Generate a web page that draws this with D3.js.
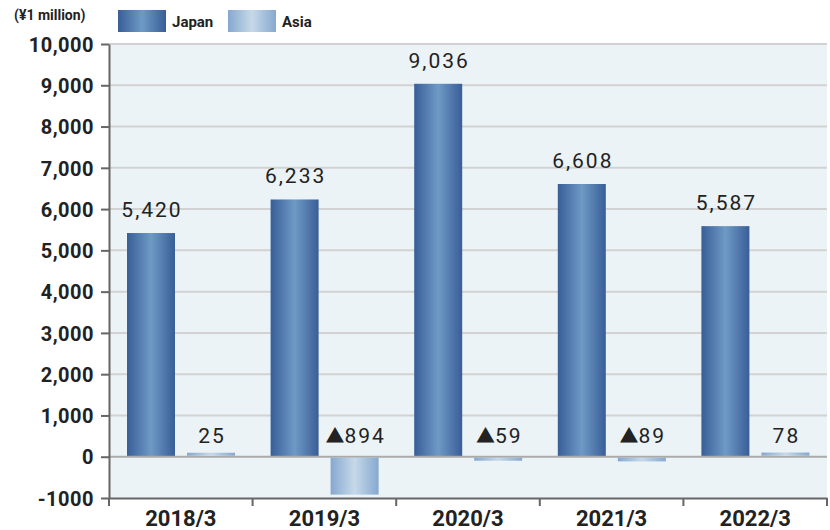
<!DOCTYPE html>
<html><head><meta charset="utf-8">
<script src="https://cdn.jsdelivr.net/npm/d3@7"></script>
<style>body{margin:0;background:#fff;font-family:Roboto,sans-serif;}</style>
</head><body><svg id="c" width="830" height="530"></svg>
<script>
const categories = ["2018/3","2019/3","2020/3","2021/3","2022/3"];
const japan = [5420, 6233, 9036, 6608, 5587];
const asia = [25, -894, -59, -89, 78];
const yTicks = [-1000,0,1000,2000,3000,4000,5000,6000,7000,8000,9000,10000];
const seriesNames = ["Japan","Asia"];

const svg = d3.select("#c");
const L=109,R=827,T=44,B=498;
const x = d3.scaleBand().domain(categories).range([L,R]).paddingInner(0).paddingOuter(0);
const y = d3.scaleLinear().domain([-1000,10000]).range([B,T]);
const defs = svg.append("defs");
function grad(id, edge, mid){
  const g=defs.append("linearGradient").attr("id",id).attr("x1","0%").attr("x2","100%");
  g.append("stop").attr("offset","0%").attr("stop-color",edge);
  g.append("stop").attr("offset","50%").attr("stop-color",mid);
  g.append("stop").attr("offset","100%").attr("stop-color",edge);
}
grad("gJ","#395e98","#6e9ac5");
grad("gA","#86a8cf","#c6d9e9");

svg.append("rect").attr("x",L).attr("y",T).attr("width",R-L).attr("height",B-T).attr("fill","#ecf3f6");
// grid
svg.selectAll(".grid").data(yTicks.filter(d=>d!==-1000 && d!==0)).enter().append("line")
 .attr("x1",L).attr("x2",R).attr("y1",d=>y(d)).attr("y2",d=>y(d)).attr("stroke","#d2d2d2").attr("stroke-width",2);

const bw = 48;
const offJ = 18, offA = 78;
const minH = 3;
function barY(d){ const h=Math.max(minH,Math.abs(y(d)-y(0))); return d>=0 ? y(0)-h : y(0); }
function barH(d){ return Math.max(minH,Math.abs(y(d)-y(0))); }
svg.selectAll(".bj").data(japan).enter().append("rect")
 .attr("x",(d,i)=>x(categories[i])+offJ).attr("width",bw)
 .attr("y",barY).attr("height",barH)
 .attr("fill","url(#gJ)");
// zero line
svg.append("line").attr("x1",L).attr("x2",R).attr("y1",y(0)).attr("y2",y(0)).attr("stroke","#aaaaaa").attr("stroke-width",2);
svg.selectAll(".ba").data(asia).enter().append("rect")
 .attr("x",(d,i)=>x(categories[i])+offA).attr("width",bw)
 .attr("y",d=>d>=0 ? barY(d)-1 : barY(d)+1).attr("height",barH)
 .attr("fill","url(#gA)");

// labels
const fmt = d3.format(",");
function addLabel(sel){
  sel.each(function(d){
    const t=d3.select(this);
    if(d<0){
      t.append("tspan").attr("font-family","'Noto Sans CJK JP',sans-serif").attr("font-size",19).attr("letter-spacing",0).text("▲");
      t.append("tspan").text(fmt(-d));
    } else t.text(fmt(d));
  });
}
svg.selectAll(".lj").data(japan).enter().append("text")
 .attr("x",(d,i)=>x(categories[i])+offJ+bw/2+1).attr("y",d=>y(d)-16)
 .attr("text-anchor","middle").attr("font-size",21).attr("letter-spacing",2).attr("fill","#222").call(addLabel);
svg.selectAll(".la").data(asia).enter().append("text")
 .attr("x",(d,i)=>x(categories[i])+offA+bw/2+1).attr("y",y(0)-14)
 .attr("text-anchor","middle").attr("font-size",21).attr("letter-spacing",2).attr("fill","#222").call(addLabel);

// axes
const ya = svg.append("g").attr("transform",`translate(${L},0)`)
 .call(d3.axisLeft(y).tickValues(yTicks).tickFormat(d=>d===-1000?"-1000":fmt(d)).tickSize(8).tickSizeOuter(0));
ya.select(".domain").attr("stroke","#666").attr("stroke-width",2);
ya.selectAll(".tick line").attr("stroke","#666").attr("stroke-width",2);
ya.selectAll("text").attr("font-family","Roboto,sans-serif").attr("font-size",20).attr("font-weight","bold").attr("letter-spacing",0.5).attr("fill","#222").attr("x",-15).attr("dy","0.36em");

const xa = svg.append("g").attr("transform",`translate(0,${B})`)
 .call(d3.axisBottom(x).tickSize(0).tickSizeOuter(0));
xa.select(".domain").attr("stroke","#666").attr("stroke-width",2);
xa.selectAll("text").attr("font-family","Roboto,sans-serif").attr("font-size",22).attr("font-weight","bold").attr("fill","#222").attr("y",0).attr("dy",28);
const bounds = categories.map(c=>x(c)).concat([R]);
svg.selectAll(".xt").data(bounds).enter().append("line")
 .attr("x1",d=>d).attr("x2",d=>d).attr("y1",B).attr("y2",B+8).attr("stroke","#666").attr("stroke-width",2);

// legend
svg.append("text").attr("x",14).attr("y",20).attr("font-size",14).attr("font-weight","bold").attr("fill","#222").text("(¥1 million)");
const lg = [{n:seriesNames[0],g:"gJ",x:118},{n:seriesNames[1],g:"gA",x:228}];
lg.forEach(o=>{
  svg.append("rect").attr("x",o.x).attr("y",10).attr("width",48).attr("height",22).attr("fill",`url(#${o.g})`);
  svg.append("text").attr("x",o.x+54).attr("y",27).attr("font-size",15).attr("font-weight","bold").attr("fill","#222").text(o.n);
});
</script></body></html>
